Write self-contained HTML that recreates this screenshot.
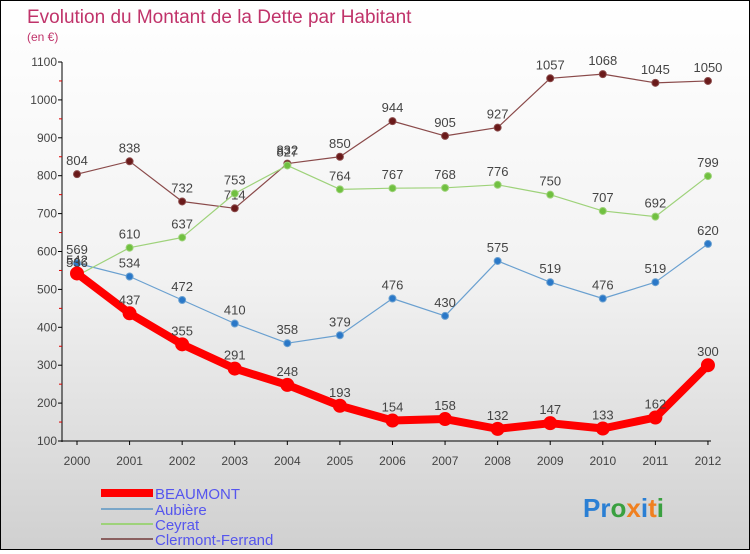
<!DOCTYPE html>
<html><head><meta charset="utf-8"><style>
body{margin:0}
#c{width:748px;height:548px;border:1px solid #000;background:linear-gradient(#fff 0%,#f2f2f2 50%,#d0d0d0 100%);position:relative;font-family:"Liberation Sans",sans-serif}
svg text{font-family:"Liberation Sans",sans-serif}
</style></head><body>
<div id="c">
<svg id="s" width="748" height="548">
<text x="26" y="22" font-size="19" fill="#c0336a">Evolution du Montant de la Dette par Habitant</text>
<text x="26" y="40" font-size="12" fill="#c0336a">(en €)</text>
<g id="g"></g>
<g>
<rect x="100" y="488" width="52" height="8" fill="#f00"/>
<text x="154" y="498" font-size="15" fill="#5555ee">BEAUMONT</text>
<rect x="100" y="507" width="52" height="2" fill="#7aa6c8"/>
<text x="154" y="514" font-size="15" fill="#5555ee">Aubière</text>
<rect x="100" y="522" width="52" height="2" fill="#9ed27a"/>
<text x="154" y="529" font-size="15" fill="#5555ee">Ceyrat</text>
<rect x="100" y="537" width="52" height="2" fill="#8a6060"/>
<text x="154" y="544" font-size="15" fill="#5555ee">Clermont-Ferrand</text>
</g>
<text x="582" y="516" font-size="26" font-weight="bold"><tspan fill="#2a7fd4">Pr</tspan><tspan fill="#3aa040">o</tspan><tspan fill="#f08020">x</tspan><tspan fill="#2a7fd4">i</tspan><tspan fill="#f08020">t</tspan><tspan fill="#3aa040">i</tspan></text>
</svg></div>
<script>
const years=["2000","2001","2002","2003","2004","2005","2006","2007","2008","2009","2010","2011","2012"];
const yTicks=[100,200,300,400,500,600,700,800,900,1000,1100];
const beaumont=[542,437,355,291,248,193,154,158,132,147,133,162,300];
const aubiere=[569,534,472,410,358,379,476,430,575,519,476,519,620];
const ceyrat=[536,610,637,753,827,764,767,768,776,750,707,692,799];
const clermont=[804,838,732,714,832,850,944,905,927,1057,1068,1045,1050];
const NS="http://www.w3.org/2000/svg",g=document.getElementById('g');
const X=i=>76+i*52.58, Y=v=>440-(v-100)*0.379;
function mk(t,a){const e=document.createElementNS(NS,t);for(const k in a)e.setAttribute(k,a[k]);g.appendChild(e);return e;}
let ax=mk('line',{x1:61,y1:Y(1100),x2:61,y2:441,stroke:'#000'});


let bx=mk('line',{x1:61,y1:440,x2:710,y2:440,stroke:'#000'});


yTicks.forEach(v=>{
 let l=mk('line',{x1:57,y1:Y(v),x2:61,y2:Y(v),stroke:'#000'});
 
 
 let m=mk('line',{x1:58,y1:Y(v+50),x2:61,y2:Y(v+50),stroke:'#d00'});
 if(v==1100)m.setAttribute('visibility','hidden');
 
 
 let t=mk('text',{x:56,y:Y(v)+4,'font-size':12,fill:'#444','text-anchor':'end'});t.textContent=v;
 
 
});
years.forEach((y,i)=>{
 let l=mk('line',{x1:X(i),y1:440,x2:X(i),y2:444,stroke:'#000'});
 
 
 let t=mk('text',{x:X(i),y:464,'font-size':12,fill:'#444','text-anchor':'middle'});t.textContent=y;
 
 
});
function series(d,name,col,dot,w,r){
 let p=mk('polyline',{points:d.map((v,i)=>X(i)+','+Y(v)).join(' '),fill:'none',stroke:col,'stroke-width':w,'stroke-linejoin':'round'});
 
 
 d.forEach((v,i)=>{
  let c=mk('circle',{cx:X(i),cy:Y(v),r:r,fill:dot,stroke:col,'stroke-width':1});
  
  
  let t=mk('text',{x:X(i),y:Y(v)-9,'font-size':13,fill:'#444','text-anchor':'middle'});t.textContent=v;
  
  
 });
}
series(clermont,'clermont','#8a4a4a','#6a1a1a',1.2,3.5);
series(aubiere,'aubiere','#6aa0d0','#2a78c8',1.2,3.5);
series(ceyrat,'ceyrat','#9ed27a','#70c040',1.2,3.5);
series(beaumont,'beaumont','#f00','#f00',8,6.5);
</script>
</body></html>
